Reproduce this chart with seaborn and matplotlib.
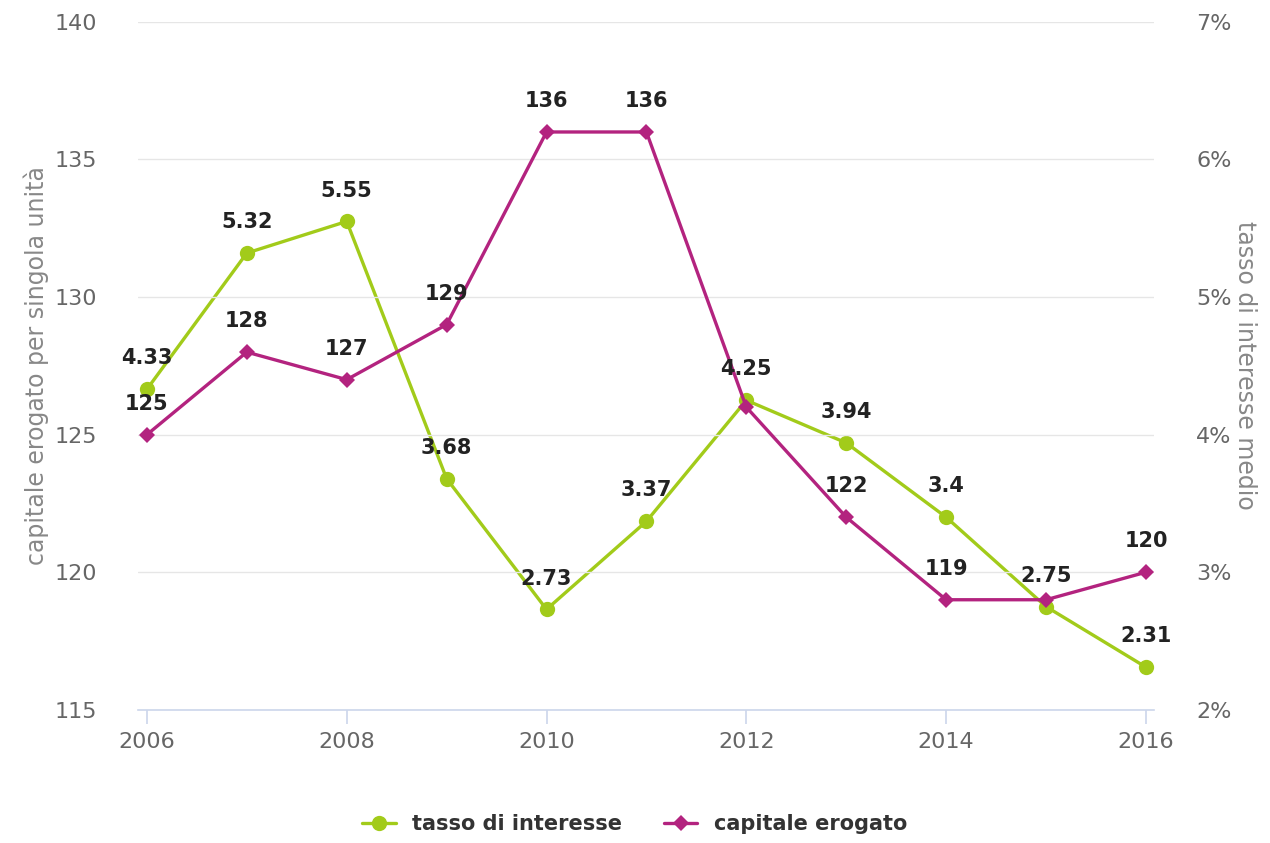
import matplotlib
matplotlib.use("Agg")
import matplotlib.pyplot as plt
import seaborn as sns
import pandas as pd
from matplotlib.ticker import FuncFormatter

sns.set_theme(style="white")
plt.rcParams['font.family'] = ['DejaVu Sans']

# ================================
# data
# ================================
anni = [2006, 2007, 2008, 2009, 2010, 2011, 2012, 2013, 2014, 2015, 2016]
tasso = [4.33, 5.32, 5.55, 3.68, 2.73, 3.37, 4.25, 3.94, 3.4, 2.75, 2.31]
capitale = [125, 128, 127, 129, 136, 136, 126, 122, 119, 119, 120]
# labels hidden in the original because they overlap
capitale_nascosti = [2012, 2015]

df = pd.DataFrame({"anno": anni, "tasso": tasso, "capitale": capitale})

verde = "#a2cb1a"
magenta = "#b3237f"
grigio = "#666666"

fig, ax = plt.subplots(figsize=(12.7, 8.43), dpi=100)
fig.subplots_adjust(left=0.109, right=0.909, top=0.974, bottom=0.158)
ax2 = ax.twinx()

# green on right axis, magenta on left axis (drawn on top)
sns.lineplot(data=df, x="anno", y="tasso", ax=ax2, color=verde, lw=2.4,
             marker="o", markersize=11, markeredgewidth=0, label="tasso di interesse")
sns.lineplot(data=df, x="anno", y="capitale", ax=ax, color=magenta, lw=2.4,
             marker="D", markersize=8, markeredgewidth=0, label="capitale erogato")
ax.set_zorder(ax2.get_zorder() + 1)
ax.patch.set_visible(False)

ax.set_ylim(115, 140)
ax.set_yticks(range(115, 141, 5))
ax2.set_ylim(2, 7)
ax2.set_yticks(range(2, 8))
ax2.yaxis.set_major_formatter(FuncFormatter(lambda v, p: f"{v:.0f}%"))
ax.set_xlim(2005.915, 2016.085)
ax.set_xticks(range(2006, 2017, 2))

# grid and spines
ax.grid(axis="y", color="#e6e6e6", lw=1)
ax2.grid(False)
for a in (ax, ax2):
    for s in a.spines.values():
        s.set_visible(False)
ax.spines["bottom"].set_visible(True)
ax.spines["bottom"].set_color("#ccd6eb")
ax.spines["bottom"].set_linewidth(1.2)
ax.tick_params(axis="x", length=10, width=1.2, color="#ccd6eb", labelsize=16,
               labelcolor=grigio, pad=6, bottom=True)
ax.tick_params(axis="y", length=0, labelsize=16, labelcolor=grigio, pad=30)
ax2.tick_params(axis="y", length=0, labelsize=16, labelcolor=grigio, pad=30)

ax.set_xlabel("")
ax.set_ylabel("capitale erogato per singola unità", fontsize=17, color="#888888", labelpad=4)
ax2.set_ylabel("tasso di interesse medio", fontsize=17, color="#888888",
               rotation=270, labelpad=18)

# data labels
for x, v in zip(anni, tasso):
    ax.annotate(f"{v:g}", xy=(x, v), xycoords=ax2.transData, xytext=(0, 15),
                textcoords="offset points", ha="center", va="bottom",
                fontsize=15, fontweight="bold", color="#222222", zorder=10)
for x, v in zip(anni, capitale):
    if x in capitale_nascosti:
        continue
    ax.annotate(f"{v:g}", xy=(x, v), xytext=(0, 15),
                textcoords="offset points", ha="center", va="bottom",
                fontsize=15, fontweight="bold", color="#222222", zorder=10)

# legend
h1, l1 = ax2.get_legend_handles_labels()
h2, l2 = ax.get_legend_handles_labels()
ax.get_legend().remove()
ax2.get_legend().remove()
leg = fig.legend(h1 + h2, l1 + l2, loc="lower center", bbox_to_anchor=(0.5, -0.012),
                 ncol=2, frameon=False, handlelength=1.6, columnspacing=2.0,
                 prop={"size": 15, "weight": "bold"})
for t in leg.get_texts():
    t.set_color("#333333")

plt.savefig("out.png", dpi=100)
